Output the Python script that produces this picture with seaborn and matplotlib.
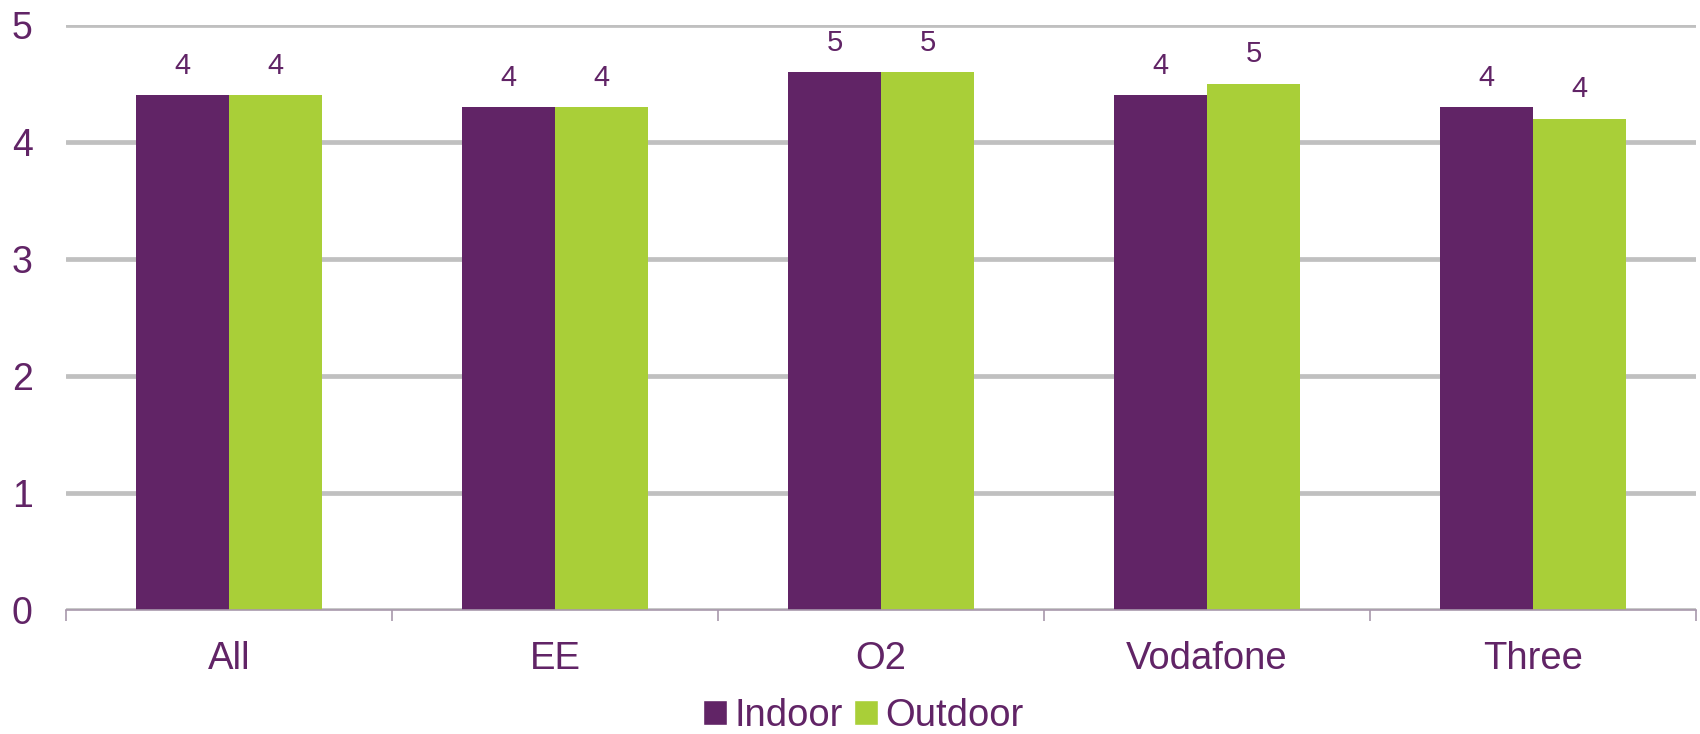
import seaborn as sns
import matplotlib.pyplot as plt
from matplotlib.patches import Patch
import numpy as np
import pandas as pd

# Chart values
categories = ["All", "EE", "O2", "Vodafone", "Three"]
indoor = [4.4, 4.3, 4.6, 4.4, 4.3]
outdoor = [4.4, 4.3, 4.6, 4.5, 4.2]
series_names = ["Indoor", "Outdoor"]
y_ticks = [0, 1, 2, 3, 4, 5]

purple = "#612466"
green = "#a9cf38"
text_col = "#612466"
axis_col = "#a898ac"

df = pd.DataFrame({
    "category": categories * 2,
    "series": [series_names[0]] * len(categories) + [series_names[1]] * len(categories),
    "score": indoor + outdoor,
})

sns.set_style("white")
plt.rcParams["font.family"] = ["Liberation Sans", "DejaVu Sans"]

fig = plt.figure(figsize=(17, 7.34), dpi=100)
ax = fig.add_axes([66 / 1700, 1 - 610 / 734, 1630 / 1700, 585 / 734])

sns.barplot(
    data=df, x="category", y="score", hue="series",
    order=categories, hue_order=series_names,
    palette=[purple, green], saturation=1, width=0.57, linewidth=0,
    legend=False, ax=ax,
)

# Rounded value labels on top of bars
for cont in ax.containers:
    vals = [b.get_height() for b in cont]
    ax.bar_label(cont, labels=[str(int(np.floor(v + 0.5))) for v in vals],
                 padding=11, fontsize=21, color=text_col)

ax.set_ylim(0, 5)
ax.set_xlim(-0.5, len(categories) - 0.5)
ax.set_yticks(y_ticks)
ax.set_xlabel("")
ax.set_ylabel("")

# gridlines
ax.yaxis.grid(True, color="#c0c0c0", linewidth=3.4)
ax.set_axisbelow(True)

for s in ["top", "right", "left"]:
    ax.spines[s].set_visible(False)
ax.spines["bottom"].set_color(axis_col)
ax.spines["bottom"].set_linewidth(1.2)

ax.tick_params(axis="y", length=0, pad=24, labelsize=27, labelcolor=text_col)
ax.tick_params(axis="x", which="major", length=0, pad=22, labelsize=27.5, labelcolor=text_col)
ax.set_xticks(np.arange(-0.5, len(categories)), minor=True)
ax.tick_params(axis="x", which="minor", bottom=True, length=8, width=1.2,
               color=axis_col, direction="out")

handles = [Patch(facecolor=purple), Patch(facecolor=green)]
fig.legend(handles, series_names, loc="lower center", bbox_to_anchor=(0.508, -0.036),
           ncol=2, frameon=False, fontsize=27.5, labelcolor=text_col,
           handlelength=0.62, handleheight=0.62, handletextpad=0.2, columnspacing=0.3,
           borderpad=0.2)

fig.savefig("out.png", dpi=100)
